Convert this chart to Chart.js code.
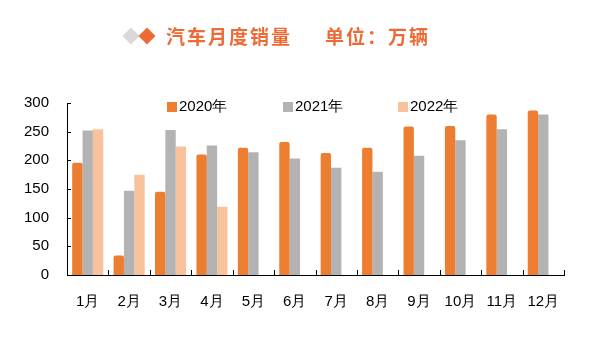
<!DOCTYPE html>
<html><head><meta charset="utf-8">
<script src="https://cdn.jsdelivr.net/npm/chart.js@4/dist/chart.umd.min.js"></script>
<style>
html,body{margin:0;padding:0;background:#fff;}
#wrap{position:relative;width:592px;height:354px;}
#c{position:absolute;left:0;top:0;}
.dia{position:absolute;width:12px;height:12px;transform:rotate(45deg);}
.tt{position:absolute;top:24px;font-family:"Noto Sans CJK SC";font-weight:bold;font-size:19px;letter-spacing:2px;color:#EE6A35;line-height:24px;white-space:nowrap;}
</style></head>
<body>
<div id="wrap">
<canvas id="c" width="592" height="354"></canvas>
<div class="dia" style="left:125px;top:30px;background:#D9D9D9;"></div>
<div class="dia" style="left:141px;top:30px;background:#EE6A35;"></div>
<div class="tt" style="left:166px;">汽车月度销量</div>
<div class="tt" style="left:325px;">单位：万辆</div>
</div>
<script>
const categories = ["1月","2月","3月","4月","5月","6月","7月","8月","9月","10月","11月","12月"];
const seriesNames = ["2020年","2021年","2022年"];
const sales2020 = [196, 34, 145, 210, 222, 232, 213, 222, 259, 260, 280, 287];
const sales2021 = [252, 147, 253, 226, 214, 203, 187, 180, 208, 235, 254, 280];
const sales2022 = [254, 175, 224, 119, null, null, null, null, null, null, null, null];
const yTicks = [0, 50, 100, 150, 200, 250, 300];
const colors = ["#ED7D31", "#B3B3B3", "#F8C29C"];
const FONT = '"Liberation Sans", Arial, sans-serif';

const inwardTicks = {
  id: 'inwardTicks',
  afterDraw(chart) {
    const ctx = chart.ctx, ca = chart.chartArea;
    const ys = chart.scales.y, xs = chart.scales.x;
    ctx.save();
    ctx.strokeStyle = '#000'; ctx.lineWidth = 1;
    ctx.beginPath();
    yTicks.forEach(v => {
      const y = Math.round(ys.getPixelForValue(v)) + 0.5;
      ctx.moveTo(ca.left, y); ctx.lineTo(ca.left + 4, y);
    });
    const n = categories.length;
    for (let i = 1; i <= n; i++) {
      const x = Math.round((xs.getPixelForValue(i - 1) + (i < n ? xs.getPixelForValue(i) : 2 * xs.getPixelForValue(i - 1) - xs.getPixelForValue(i - 2))) / 2) + 0.5;
      ctx.moveTo(x, ca.bottom); ctx.lineTo(x, ca.bottom - 5);
    }
    ctx.stroke();
    // legend
    const lx = [167, 283, 398];
    ctx.font = '15px ' + FONT;
    ctx.textBaseline = 'middle';
    chart.data.datasets.forEach((ds, i) => {
      ctx.fillStyle = ds.backgroundColor;
      ctx.fillRect(lx[i], 102, 10, 10);
      ctx.fillStyle = '#000';
      ctx.fillText(ds.label, lx[i] + 12, 107);
    });
    ctx.restore();
  }
};

new Chart(document.getElementById('c'), {
  type: 'bar',
  data: {
    labels: categories,
    datasets: [
      {label: seriesNames[0], data: sales2020, backgroundColor: colors[0], borderRadius: {topLeft: 2, topRight: 2}, borderSkipped: 'start'},
      {label: seriesNames[1], data: sales2021, backgroundColor: colors[1]},
      {label: seriesNames[2], data: sales2022, backgroundColor: colors[2]}
    ]
  },
  options: {
    responsive: false,
    animation: false,
    devicePixelRatio: 1,
    layout: {padding: {top: 103, right: 28, left: 0, bottom: 0}},
    datasets: {bar: {categoryPercentage: 0.75, barPercentage: 1.0}},
    plugins: {legend: {display: false}, title: {display: false}, tooltip: {enabled: false}},
    scales: {
      x: {
        grid: {display: false, drawTicks: false},
        border: {display: true, color: '#000', width: 1},
        ticks: {color: '#000', padding: 18, font: {family: FONT, size: 15}, maxRotation: 0},
        afterFit(s) { s.height = 79; }
      },
      y: {
        min: 0, max: 300,
        afterBuildTicks(s) { s.ticks = yTicks.map(v => ({value: v})); },
        grid: {display: false, drawTicks: false},
        border: {display: true, color: '#000', width: 1},
        ticks: {color: '#000', padding: 18, font: {family: FONT, size: 15}},
        afterFit(s) { s.width = 67; }
      }
    }
  },
  plugins: [inwardTicks]
});
</script>
</body></html>
